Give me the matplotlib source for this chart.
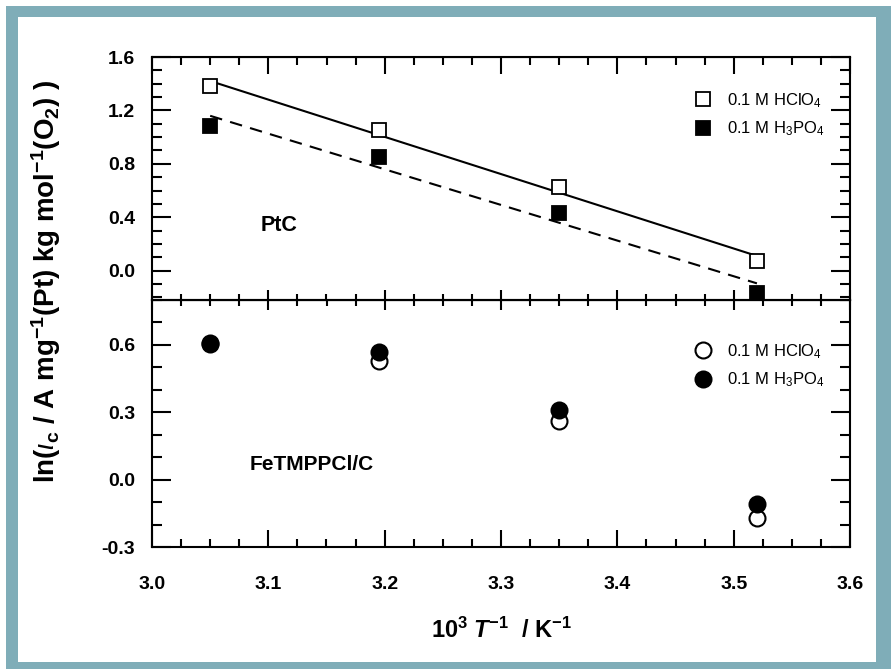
import numpy as np
import matplotlib
matplotlib.use("Agg")
import matplotlib.pyplot as plt
from matplotlib.ticker import MultipleLocator, FormatStrFormatter
from matplotlib.patches import Rectangle

plt.rcParams['font.family'] = ['Liberation Sans', 'DejaVu Sans']
plt.rcParams['mathtext.fontset'] = 'custom'
plt.rcParams['mathtext.rm'] = 'Liberation Sans'
plt.rcParams['mathtext.it'] = 'Liberation Sans:italic'
plt.rcParams['mathtext.bf'] = 'Liberation Sans:bold'
plt.rcParams['mathtext.bfit'] = 'Liberation Sans:italic:bold'

# 10^3 / T
inv_T = [3.05, 3.195, 3.35, 3.52]

# PtC
ptc_hclo4 = [1.38, 1.05, 0.63, 0.07]
ptc_h3po4 = [1.08, 0.85, 0.43, -0.165]

# FeTMPPCl/C
fe_hclo4 = [0.605, 0.53, 0.26, -0.17]
fe_h3po4 = [0.61, 0.57, 0.31, -0.11]

lbl_hclo4 = r'0.1 M HClO$_\mathregular{4}$'
lbl_h3po4 = r'0.1 M H$_\mathregular{3}$PO$_\mathregular{4}$'

W, H = 891, 669
fig = plt.figure(figsize=(W / 100, H / 100), dpi=100)
fig.patch.set_facecolor('white')

# teal frame
fig.patches.append(Rectangle((6 / W, 0), 1 - 6 / W, 1 - 6 / H, transform=fig.transFigure,
                             facecolor='#7fadb8', edgecolor='none', zorder=-10))
fig.patches.append(Rectangle((18 / W, 7 / H), (876 - 18) / W, (662 - 17) / H,
                             transform=fig.transFigure, facecolor='white',
                             edgecolor='none', zorder=-9))

left, right = 152 / W, 850 / W
y_top, y_mid, y_bot = 1 - 57 / H, 1 - 300 / H, 1 - 547 / H
ax1 = fig.add_axes([left, y_mid, right - left, y_top - y_mid])
ax2 = fig.add_axes([left, y_bot, right - left, y_mid - y_bot])

for ax in (ax1, ax2):
    ax.set_facecolor('none')
    for s in ax.spines.values():
        s.set_linewidth(1.5)
    ax.set_xlim(3.0, 3.6)
    ax.xaxis.set_major_locator(MultipleLocator(0.1))
    ax.xaxis.set_minor_locator(MultipleLocator(0.025))
    ax.tick_params(which='both', direction='in', right=True, width=1.5,
                   labelsize=14, pad=12)
    ax.tick_params(axis='y', which='major', length=14)
    ax.tick_params(axis='y', which='minor', length=7.5)
    for t in ax.get_yticklabels():
        t.set_fontweight('bold')

# top panel
ax1.set_ylim(-0.22, 1.6)
ax1.yaxis.set_major_locator(MultipleLocator(0.4))
ax1.yaxis.set_minor_locator(MultipleLocator(0.1))
ax1.yaxis.set_major_formatter(FormatStrFormatter('%.1f'))
ax1.tick_params(axis='x', which='major', length=7, labelbottom=False)
ax1.tick_params(axis='x', which='minor', length=4)
sec1 = ax1.secondary_xaxis('top')
sec1.xaxis.set_major_locator(MultipleLocator(0.1))
sec1.xaxis.set_minor_locator(MultipleLocator(0.025))
sec1.tick_params(which='major', direction='in', length=12, width=1.5, labeltop=False)
sec1.tick_params(which='minor', direction='in', length=6, width=1.5)

x = np.array(inv_T)
for yv, ls in ((ptc_hclo4, '-'), (ptc_h3po4, (0, (6, 4)))):
    k, b = np.polyfit(x, yv, 1)
    ax1.plot(x[[0, -1]], k * x[[0, -1]] + b, color='black', lw=1.5, ls=ls, zorder=2)
ax1.plot(inv_T, ptc_hclo4, 's', ms=9.5, mfc='white', mec='black', mew=1.3,
         ls='none', label=lbl_hclo4, zorder=3)
ax1.plot(inv_T, ptc_h3po4, 's', ms=9.5, mfc='black', mec='black', mew=1.3,
         ls='none', label=lbl_h3po4, zorder=3)
ax1.text(0.182, 0.305, 'PtC', transform=ax1.transAxes, ha='center', va='center',
         fontsize=15.5, fontweight='bold')
ax1.legend(loc='upper left', bbox_to_anchor=(0.779, 0.86), frameon=False,
           fontsize=12, borderpad=0, handlelength=0.85, handletextpad=1.0,
           labelspacing=0.6, borderaxespad=0)

# bottom panel
ax2.set_ylim(-0.3, 0.8)
ax2.yaxis.set_major_locator(MultipleLocator(0.3))
ax2.yaxis.set_minor_locator(MultipleLocator(0.1))
ax2.yaxis.set_major_formatter(FormatStrFormatter('%.1f'))
ax2.tick_params(axis='x', which='major', length=12)
ax2.tick_params(axis='x', which='minor', length=6)
ax2.tick_params(axis='x', pad=21)
for t in ax2.get_xticklabels():
    t.set_fontweight('bold')
sec2 = ax2.secondary_xaxis('top')
sec2.xaxis.set_major_locator(MultipleLocator(0.1))
sec2.xaxis.set_minor_locator(MultipleLocator(0.025))
sec2.tick_params(which='major', direction='in', length=7, width=1.5, labeltop=False)
sec2.tick_params(which='minor', direction='in', length=4, width=1.5)

ax2.plot(inv_T, fe_hclo4, 'o', ms=11.5, mfc='white', mec='black', mew=1.5,
         ls='none', label=lbl_hclo4, zorder=3)
ax2.plot(inv_T, fe_h3po4, 'o', ms=11.5, mfc='black', mec='black', mew=1.5,
         ls='none', label=lbl_h3po4, zorder=4)
ax2.text(0.229, 0.332, 'FeTMPPCl/C', transform=ax2.transAxes, ha='center',
         va='center', fontsize=15, fontweight='bold')
ax2.legend(loc='upper left', bbox_to_anchor=(0.779, 0.83), frameon=False,
           fontsize=12, borderpad=0, handlelength=0.85, handletextpad=1.0,
           labelspacing=0.6, borderaxespad=0)

ax2.set_xlabel(r'10$^\mathbf{3}$ $\mathbfit{T}^\mathbf{-1}$  / K$^\mathbf{-1}$',
               fontsize=17, fontweight='bold', labelpad=18)
fig.text(46 / W, 1 - 281 / H,
         r'ln($\mathit{\iota}_\mathbf{c}$ / A mg$^\mathbf{-1}$(Pt) kg mol$^\mathbf{-1}$(O$_\mathbf{2}$) )',
         rotation=90, ha='center', va='center', fontsize=20, fontweight='bold')

fig.savefig('out.png', dpi=100)
